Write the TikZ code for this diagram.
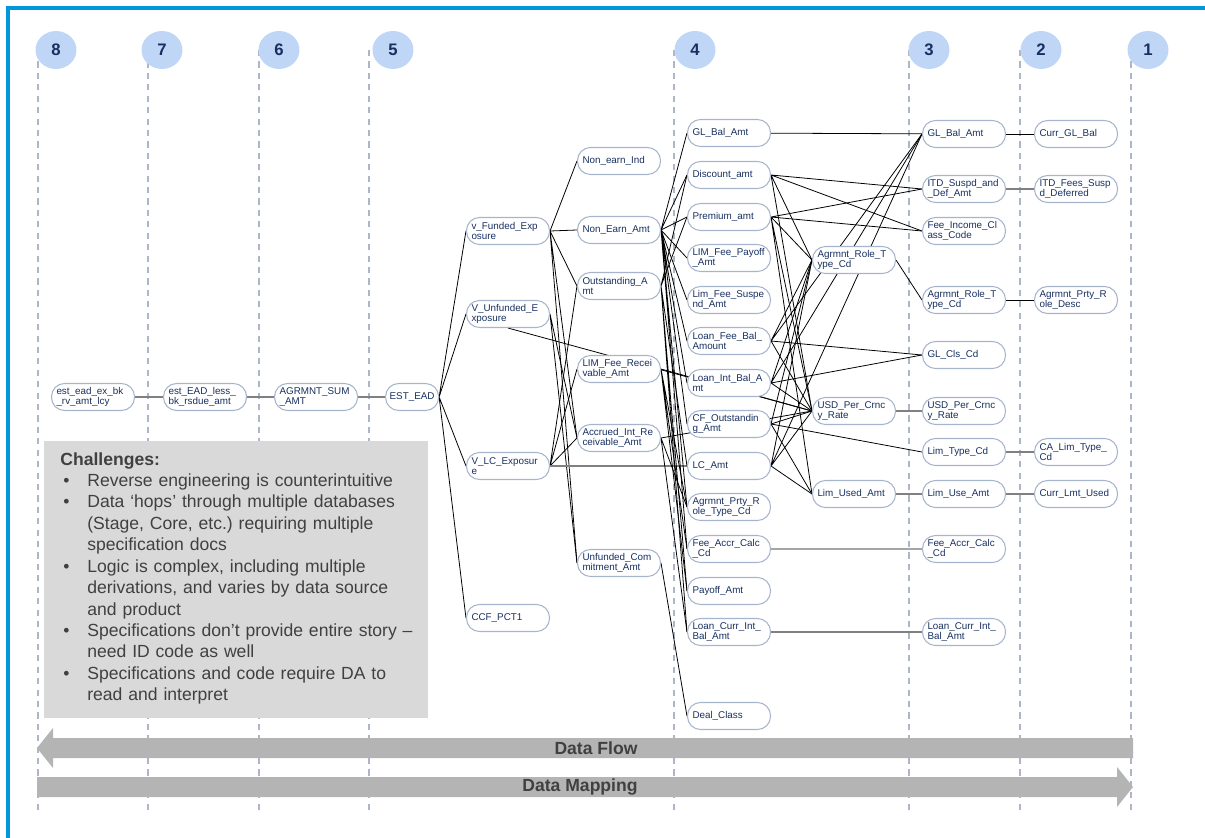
\documentclass[tikz,border=0pt]{standalone}
\usepackage{fontspec}
\setmainfont{Liberation Sans}
\usetikzlibrary{shapes.geometric,positioning,backgrounds}
\definecolor{frameblue}{RGB}{0,150,219}
\definecolor{numfill}{RGB}{192,214,247}
\definecolor{navy}{RGB}{24,48,96}
\definecolor{boxline}{RGB}{166,180,204}
\definecolor{dashgrey}{RGB}{172,182,200}
\definecolor{arrowgrey}{RGB}{180,180,180}
\definecolor{textgrey}{RGB}{64,64,64}
\definecolor{panelgrey}{RGB}{217,217,217}
\tikzset{field node/.style={rectangle,rounded corners=0.26cm,draw=boxline,line width=0.6pt,fill=white,text=navy,minimum width=1.66cm,minimum height=0.54cm,text width=1.46cm,inner xsep=0.1cm,inner ysep=1pt,align=left,font=\fontsize{5.6}{6}\selectfont},
         short node/.style={field node,minimum width=1.06cm,text width=0.9cm,inner xsep=0.08cm,align=center},
         col num/.style={ellipse,fill=numfill,draw=none,minimum width=0.82cm,minimum height=0.76cm,inner sep=0pt,text=navy,font=\bfseries\fontsize{9.5}{10}\selectfont},
         col line/.style={dashgrey,dash pattern=on 3.5pt off 3pt,line width=0.7pt},
         map edge/.style={line width=0.45pt,black},
         grey edge/.style={line width=0.9pt,black!50},
         flow label/.style={font=\bfseries\fontsize{10}{12}\selectfont,text=textgrey,inner sep=0pt},
         chal text/.style={anchor=north west,inner sep=0pt,text width=7.16cm,align=left,text=textgrey,font=\fontsize{10}{12.2}\selectfont}
}
\newcommand{\chbullet}{\par\hangindent=0.54cm\hangafter=1\makebox[0.54cm][l]{\hspace{0.06cm}\textbullet}}
\hyphenpenalty=10000
\exhyphenpenalty=10000
\begin{document}
\begin{tikzpicture}[x=0.02cm,y=-0.02cm]
\useasboundingbox (0,0) rectangle (1205,838);
\draw[frameblue,line width=2.3pt] (8,838) -- (8,8) -- (1205,8);

% column numbers
\node[col num] (n8) at (56,50) {8};
\node[col num] (n7) at (162,50) {7};
\node[col num] (n6) at (279,50) {6};
\node[col num] (n5) at (393,50) {5};
\node[col num] (n4) at (695,50) {4};
\node[col num] (n3) at (929,50) {3};
\node[col num] (n2) at (1041,50) {2};
\node[col num] (n1) at (1148,50) {1};

% challenges panel
\fill[panelgrey] (44,441) rectangle (428,718);
\node[chal text] (chal) at (60,452) {\textbf{Challenges:}
\chbullet Reverse engineering is counterintuitive
\chbullet Data ‘hops’ through multiple databases\newline (Stage, Core, etc.)\ requiring multiple\newline specification docs
\chbullet Logic is complex, including multiple\newline derivations, and varies by data source\newline and product
\chbullet Specifications don’t provide entire story –\newline need ID code as well
\chbullet Specifications and code require DA to\newline read and interpret\par};

% columns 8 to 5
\node[field node] (ead) at (93,397) {est\_ead\_ex\_bk\\\_rv\_amt\_lcy};
\node[field node,right=0.56cm of ead] (eadless) {est\_EAD\_less\_\\bk\_rsdue\_amt};
\node[field node,right=0.54cm of eadless] (agrsum) {AGRMNT\_SUM\\\_AMT};
\node[short node,right=0.54cm of agrsum] (estead) {EST\_EAD};

\node[field node] (vfund) at (508,231) {v\_Funded\_Exp\\osure};
\node[field node] (vunf) at (508,314) {V\_Unfunded\_E\\xposure};
\node[field node] (vlc) at (508,466) {V\_LC\_Exposur\\e};
\node[field node] (ccf) at (508,618) {CCF\_PCT1};

\node[field node] (nei) at (619,161) {Non\_earn\_Ind};
\node[field node] (nea) at (619,230) {Non\_Earn\_Amt};
\node[field node] (outa) at (619,286) {Outstanding\_A\\mt};
\node[field node] (lfr) at (619,369) {LIM\_Fee\_Recei\\vable\_Amt};
\node[field node] (accr) at (619,438) {Accrued\_Int\_Re\\ceivable\_Amt};
\node[field node] (unfc) at (619,563) {Unfunded\_Com\\mitment\_Amt};

% column 4
\node[field node] (glb4) at (729,133) {GL\_Bal\_Amt};
\node[field node] (disc) at (729,175) {Discount\_amt};
\node[field node] (prem) at (729,217) {Premium\_amt};
\node[field node] (lfp) at (729,258) {LIM\_Fee\_Payoff\\\_Amt};
\node[field node] (lfs) at (729,300) {Lim\_Fee\_Suspe\\nd\_Amt};
\node[field node] (lfb) at (729,341) {Loan\_Fee\_Bal\_\\Amount};
\node[field node] (lib) at (729,383) {Loan\_Int\_Bal\_A\\mt};
\node[field node] (cfo) at (729,424) {CF\_Outstandin\\g\_Amt};
\node[field node] (lc) at (729,466) {LC\_Amt};
\node[field node] (apr) at (729,507) {Agrmnt\_Prty\_R\\ole\_Type\_Cd};
\node[field node] (fac4) at (729,549) {Fee\_Accr\_Calc\\\_Cd};
\node[field node] (pay) at (729,591) {Payoff\_Amt};
\node[field node] (lcib4) at (729,632) {Loan\_Curr\_Int\_\\Bal\_Amt};
\node[field node] (deal) at (729,716) {Deal\_Class};

\node[field node] (art1) at (854,260) {Agrmnt\_Role\_T\\ype\_Cd};
\node[field node] (usd1) at (854,411) {USD\_Per\_Crnc\\y\_Rate};
\node[field node] (lim1) at (854,494) {Lim\_Used\_Amt};

% column 3
\node[field node] (glb3) at (964,134) {GL\_Bal\_Amt};
\node[field node] (itd) at (964,189) {ITD\_Suspd\_and\\\_Def\_Amt};
\node[field node] (fic) at (964,231) {Fee\_Income\_Cl\\ass\_Code};
\node[field node] (art3) at (964,300) {Agrmnt\_Role\_T\\ype\_Cd};
\node[field node] (gcc) at (964,355) {GL\_Cls\_Cd};
\node[field node] (usd3) at (964,411) {USD\_Per\_Crnc\\y\_Rate};
\node[field node] (lt) at (964,452) {Lim\_Type\_Cd};
\node[field node] (limu) at (964,494) {Lim\_Use\_Amt};
\node[field node] (fac3) at (964,549) {Fee\_Accr\_Calc\\\_Cd};
\node[field node] (lcib3) at (964,632) {Loan\_Curr\_Int\_\\Bal\_Amt};

% column 2
\node[field node,right=0.56cm of glb3] (cgl) {Curr\_GL\_Bal};
\node[field node,right=0.56cm of itd] (itdf) {ITD\_Fees\_Susp\\d\_Deferred};
\node[field node,right=0.56cm of art3] (aprd) {Agrmnt\_Prty\_R\\ole\_Desc};
\node[field node,right=0.56cm of lt] (calt) {CA\_Lim\_Type\_\\Cd};
\node[field node,right=0.56cm of limu] (clu) {Curr\_Lmt\_Used};

% flow arrows
\fill[arrowgrey] (37,748) -- (53,728) -- (53,738) -- (1133,738) -- (1133,758) -- (53,758) -- (53,768) -- cycle;
\node[flow label] (flow) at (596,748) {Data Flow};
\fill[arrowgrey] (1133,787) -- (1117,767) -- (1117,777) -- (37,777) -- (37,797) -- (1117,797) -- (1117,807) -- cycle;
\node[flow label] (mapping) at (580,787) {Data Mapping};

\begin{pgfonlayer}{background}
\draw[col line] (38,50) -- (38,812) (148,50) -- (148,812) (259,50) -- (259,812) (369,50) -- (369,812)
  (674,50) -- (674,812) (909,50) -- (909,812) (1020,50) -- (1020,812) (1131,50) -- (1131,812);
\draw[grey edge] (ead) -- (eadless) (eadless) -- (agrsum) (agrsum) -- (estead);
\draw[map edge] (estead.east) -- (vfund.west) (estead.east) -- (vunf.west) (estead.east) -- (vlc.west) (estead.east) -- (ccf.west);
\draw[map edge] (vfund.east) -- (nei.west) (vfund.east) -- (nea.west) (vfund.east) -- (outa.west)
  (vfund.east) -- (accr.west) (vfund.east) -- (unfc.west);
\draw[map edge] (vunf.east) -- (accr.west) (vunf.east) -- (unfc.west) (vunf.south) -- (usd1.west);
\draw[map edge] (vlc.east) -- (outa.west) (vlc.east) -- (lfr.west) (vlc.east) -- (accr.west);
\draw[grey edge] (vlc.east) -- (lc.west);
\draw[map edge] (nea.east) -- (glb4.west) (nea.east) -- (disc.west) (nea.east) -- (prem.west) (nea.east) -- (lfp.west)
  (nea.east) -- (lfs.west) (nea.east) -- (lfb.west) (nea.east) -- (lib.west) (nea.east) -- (cfo.west)
  (nea.east) -- (apr.west) (nea.east) -- (fac4.west);
\draw[map edge] (outa.east) -- (disc.west) (outa.east) -- (prem.west) (outa.east) -- (lc.west)
  (outa.east) -- (pay.west) (outa.east) -- (lcib4.west);
\draw[map edge] (lfr.east) -- (usd1.west) (lfr.east) -- (apr.west) (lfr.east) -- (fac4.west) (lfr.east) -- (pay.west);
\draw[map edge] (accr.east) -- (usd1.west) (accr.east) -- (apr.west) (accr.east) -- (lcib4.west);
\draw[map edge] (unfc.east) -- (deal.west);
\draw[map edge] (glb4) -- (glb3);
\draw[map edge] (disc.east) -- (itd.west) (disc.east) -- (fic.west) (disc.east) -- (art1.west) (disc.east) -- (usd1.west);
\draw[map edge] (prem.east) -- (itd.west) (prem.east) -- (fic.west) (prem.east) -- (art1.west)
  (prem.east) -- (usd1.west) (prem.east) -- (lim1.west);
\draw[map edge] (lfb.east) -- (glb3.west) (lfb.east) -- (gcc.west) (lfb.east) -- (art1.west) (lfb.east) -- (usd1.west);
\draw[map edge] (lib.east) -- (glb3.west) (lib.east) -- (gcc.west) (lib.east) -- (art1.west) (lib.east) -- (usd1.west);
\draw[map edge] (cfo.east) -- (usd1.west) (cfo.east) -- (lt.west) (cfo.east) -- (lim1.west) (cfo.east) -- (art1.west);
\draw[map edge] (lc.east) -- (glb3.west) (lc.east) -- (art1.west) (lc.east) -- (usd1.west) (lc.east) -- (lim1.west);
\draw[map edge] (fac4) -- (fac3) (art1.east) -- (art3.west);
\draw[grey edge] (lcib4) -- (lcib3) (usd1) -- (usd3) (lim1) -- (limu);
\draw[map edge] (glb3) -- (cgl) (art3) -- (aprd);
\draw[grey edge] (itd) -- (itdf) (lt) -- (calt) (limu) -- (clu);
\end{pgfonlayer}
\end{tikzpicture}
\end{document}
